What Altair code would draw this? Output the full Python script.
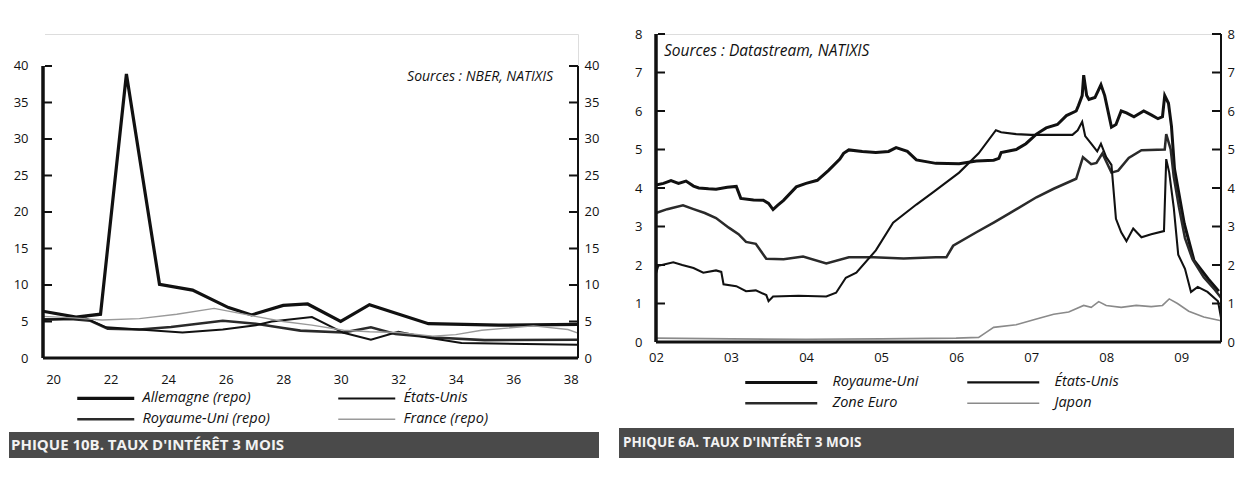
import altair as alt
import pandas as pd

# ---------------- Graphique 10B : 1920-1938 ----------------
all_x = [19.65, 20.8, 21.65, 22.55, 23.7, 24.85, 26.1, 26.9, 28.0, 28.85, 30.0, 31.0, 33.05, 35.5, 38.25]
all_y = [6.4, 5.6, 6.0, 38.9, 10.1, 9.3, 6.9, 5.9, 7.2, 7.4, 5.0, 7.3, 4.7, 4.5, 4.6]

eu1_x = [19.65, 20.7, 21.15, 21.85, 23.0, 24.5, 25.9, 27.05, 27.6, 29.0, 30.1, 31.05, 32.0, 33.0, 34.2, 38.25]
eu1_y = [5.2, 5.4, 5.4, 4.2, 3.9, 3.5, 3.9, 4.5, 5.0, 5.6, 3.45, 2.5, 3.6, 2.8, 2.05, 1.8]

ru1_x = [19.65, 20.7, 21.3, 21.9, 23.0, 24.1, 25.9, 27.05, 28.0, 28.6, 30.1, 31.05, 31.9, 33.25, 35.0, 38.25]
ru1_y = [5.3, 5.3, 5.1, 4.0, 3.9, 4.25, 5.1, 4.7, 4.1, 3.75, 3.5, 4.2, 3.3, 2.8, 2.45, 2.5]

fr_x = [19.65, 20.7, 21.7, 23.0, 24.3, 25.6, 26.9, 28.0, 29.0, 30.1, 31.0, 32.0, 33.2, 34.0, 34.9, 36.7, 37.9, 38.25]
fr_y = [5.7, 5.5, 5.2, 5.4, 6.0, 6.8, 5.8, 5.0, 4.5, 3.8, 3.6, 3.5, 3.0, 3.2, 3.8, 4.4, 3.9, 3.4]

# legend is filled column by column: (Allemagne, Royaume-Uni) then (États-Unis, France)
series_g = ["Allemagne (repo)", "Royaume-Uni (repo)", "États-Unis", "France (repo)"]
couleurs_g = ["#111111", "#2a2a2a", "#111111", "#9a9a9a"]
epaisseurs_g = [3.2, 1.4, 2.6, 1.3]
annees_g = [20, 22, 24, 26, 28, 30, 32, 34, 36, 38]
graduations_g = [0, 5, 10, 15, 20, 25, 30, 35, 40]
x_dom_g = [19.65, 38.25]
y_dom_g = [0, 44.38]

# ---------------- Graphique 6A : 2002-2009 ----------------
ru_x = [2002.0, 2002.1, 2002.2, 2002.3, 2002.4, 2002.5, 2002.57, 2002.7, 2002.8, 2002.95, 2003.07, 2003.13,
        2003.3, 2003.43, 2003.5, 2003.56, 2003.62, 2003.7, 2003.87, 2004.0, 2004.15, 2004.3, 2004.45, 2004.5,
        2004.57, 2004.75, 2004.93, 2005.1, 2005.2, 2005.35, 2005.47, 2005.73, 2006.04, 2006.27, 2006.5,
        2006.57, 2006.6, 2006.8, 2006.93, 2007.07, 2007.2, 2007.35, 2007.47, 2007.6, 2007.63, 2007.68,
        2007.7, 2007.74, 2007.77, 2007.85, 2007.93, 2007.98, 2008.07, 2008.13, 2008.2, 2008.27, 2008.37,
        2008.5, 2008.6, 2008.69, 2008.75, 2008.78, 2008.83, 2008.87, 2008.91, 2009.04, 2009.17, 2009.36, 2009.5]
ru_y = [4.08, 4.12, 4.19, 4.12, 4.18, 4.05, 4.0, 3.98, 3.97, 4.02, 4.04, 3.73,
        3.69, 3.68, 3.6, 3.44, 3.55, 3.68, 4.03, 4.12, 4.2, 4.46, 4.75, 4.9,
        4.99, 4.95, 4.92, 4.95, 5.05, 4.95, 4.73, 4.64, 4.63, 4.7, 4.72,
        4.77, 4.92, 5.0, 5.15, 5.4, 5.56, 5.65, 5.88, 6.0, 6.14, 6.4,
        6.93, 6.4, 6.3, 6.35, 6.68, 6.4, 5.58, 5.65, 6.0, 5.95, 5.85,
        6.0, 5.9, 5.8, 5.85, 6.4, 6.2, 5.6, 4.5, 3.08, 2.12, 1.64, 1.32]

us_x = [2002.0, 2002.03, 2002.12, 2002.23, 2002.35, 2002.5, 2002.63, 2002.8, 2002.87, 2002.9, 2003.07, 2003.2,
        2003.33, 2003.47, 2003.5, 2003.56, 2003.9, 2004.27, 2004.4, 2004.53, 2004.67, 2004.93, 2005.16,
        2005.47, 2005.7, 2006.04, 2006.3, 2006.53, 2006.6, 2006.8, 2007.0, 2007.3, 2007.55, 2007.62,
        2007.68, 2007.72, 2007.8, 2007.88, 2007.93, 2008.0, 2008.07, 2008.13, 2008.2, 2008.27, 2008.36,
        2008.47, 2008.6, 2008.77, 2008.8, 2008.84, 2008.9, 2008.96, 2009.05, 2009.13, 2009.22, 2009.35,
        2009.49, 2009.53]
us_y = [1.78, 1.98, 2.02, 2.07, 2.0, 1.92, 1.8, 1.86, 1.82, 1.5, 1.45, 1.32,
        1.34, 1.22, 1.06, 1.18, 1.2, 1.18, 1.28, 1.67, 1.8, 2.38, 3.1,
        3.57, 3.9, 4.4, 4.9, 5.5, 5.45, 5.4, 5.38, 5.38, 5.38, 5.5,
        5.72, 5.35, 5.15, 4.95, 5.15, 4.8, 4.6, 3.2, 2.85, 2.62, 2.95,
        2.72, 2.8, 2.88, 4.75, 4.4, 3.5, 2.27, 1.9, 1.3, 1.43, 1.3,
        1.06, 0.63]

ze_x = [2002.0, 2002.15, 2002.36, 2002.5, 2002.65, 2002.8, 2002.97, 2003.1, 2003.2, 2003.33, 2003.47, 2003.7,
        2003.96, 2004.27, 2004.57, 2004.9, 2005.3, 2005.73, 2005.87, 2005.96, 2006.27, 2006.5, 2006.71,
        2007.07, 2007.3, 2007.6, 2007.69, 2007.8, 2007.87, 2007.95, 2008.07, 2008.16, 2008.3, 2008.47,
        2008.78, 2008.8, 2008.86, 2008.9, 2008.97, 2009.05, 2009.15, 2009.3, 2009.45, 2009.53]
ze_y = [3.35, 3.45, 3.55, 3.45, 3.35, 3.22, 2.97, 2.8, 2.6, 2.55, 2.16, 2.15,
        2.22, 2.04, 2.2, 2.2, 2.17, 2.2, 2.2, 2.5, 2.85, 3.1, 3.34,
        3.76, 3.98, 4.24, 4.8, 4.62, 4.65, 4.9, 4.4, 4.45, 4.78, 4.98,
        5.0, 5.4, 5.0, 4.3, 3.5, 2.7, 2.15, 1.68, 1.35, 1.15]

jp_x = [2002.0, 2003.0, 2004.0, 2005.0, 2006.0, 2006.3, 2006.4, 2006.5, 2006.8, 2007.07, 2007.3, 2007.5,
        2007.7, 2007.8, 2007.9, 2008.0, 2008.2, 2008.4, 2008.6, 2008.75, 2008.84, 2008.95, 2009.1, 2009.3, 2009.53]
jp_y = [0.1, 0.08, 0.07, 0.08, 0.1, 0.12, 0.25, 0.38, 0.45, 0.6, 0.72, 0.78,
        0.95, 0.9, 1.05, 0.95, 0.9, 0.95, 0.92, 0.95, 1.12, 1.0, 0.8, 0.65, 0.55]

# legend filled column by column: (Royaume-Uni, Zone Euro) then (États-Unis, Japon)
series_d = ["Royaume-Uni", "Zone Euro", "États-Unis", "Japon"]
couleurs_d = ["#111111", "#2a2a2a", "#111111", "#8a8a8a"]
epaisseurs_d = [3.0, 1.6, 3.0, 1.2]
annees_d = [2002, 2003, 2004, 2005, 2006, 2007, 2008, 2009]
graduations_d = [0, 1, 2, 3, 4, 5, 6, 7, 8]
x_dom_d = [2002.0, 2009.53]
y_dom_d = [0, 8]

titre_g = "PHIQUE 10B. TAUX D'INTÉRÊT 3 MOIS"
titre_d = "PHIQUE 6A. TAUX D'INTÉRÊT 3 MOIS"
source_g = "Sources : NBER, NATIXIS"
source_d = "Sources : Datastream, NATIXIS"

FONT = "Open Sans"
W_G, H_G = 535, 324
W_D, H_D = 565, 308


def long_df(names, xs, ys):
    rows = []
    for n, xx, yy in zip(names, xs, ys):
        for a, b in zip(xx, yy):
            rows.append({"serie": n, "annee": a, "taux": b})
    return pd.DataFrame(rows)


df_g = long_df(series_g, [all_x, ru1_x, eu1_x, fr_x], [all_y, ru1_y, eu1_y, fr_y])
df_d = long_df(series_d, [ru_x, ze_x, us_x, jp_x], [ru_y, ze_y, us_y, jp_y])


def legend(x, y, half_len, lab_off, colpad):
    # short flat symbol box (4px) so rows stay compact; the drawn stroke is longer
    return alt.Legend(title=None, orient="none", legendX=x, legendY=y, columns=2,
                      direction="vertical",
                      symbolType="M0,0L%g,0" % half_len, symbolSize=16, labelFont=FONT,
                      labelFontSize=14.5, labelFontStyle="italic", labelColor="#111",
                      columnPadding=colpad, rowPadding=6, labelOffset=lab_off,
                      padding=0, labelLimit=300)


def panel(df, names, cols, widths, xdom, ydom, xvals, yvals, w, h, leg, xlabpad, ylabpad_l,
          ylabpad_r, labelexpr, src, src_x, src_y, src_align, src_size, ban, titre,
          titre_size):
    yscale = alt.Scale(domain=ydom, nice=False)
    xaxis = alt.Axis(values=xvals, ticks=False, grid=False, title=None, domain=False,
                     labelPadding=xlabpad, labelFlush=False,
                     labelFont=FONT, labelFontSize=13, labelColor="#111",
                     labelExpr=labelexpr)
    dfa = pd.DataFrame({"bas": [min(yvals)], "haut": [max(yvals)]})
    lines = alt.Chart(df).mark_line(strokeJoin="miter").encode(
        x=alt.X("annee:Q", scale=alt.Scale(domain=xdom, nice=False, zero=False), axis=xaxis),
        y=alt.Y("taux:Q", scale=yscale,
                axis=alt.Axis(values=yvals, orient="left", ticks=False, grid=False, title=None,
                              domain=False, labelPadding=ylabpad_l, labelFont=FONT,
                              labelFontSize=13, labelColor="#111")),
        color=alt.Color("serie:N", scale=alt.Scale(domain=names, range=cols), legend=leg),
        strokeWidth=alt.StrokeWidth("serie:N", scale=alt.Scale(domain=names, range=widths),
                                    legend=leg),
        order=alt.Order("annee:Q"),
    )
    dft = pd.DataFrame({"v": yvals})
    ticks_l = alt.Chart(dft).mark_rule(color="#111", strokeWidth=2).encode(
        y=alt.Y("v:Q", axis=None, scale=yscale), x=alt.value(0), x2=alt.value(9))
    ticks_r = alt.Chart(dft).mark_rule(color="#111", strokeWidth=2).encode(
        y=alt.Y("v:Q", scale=yscale,
                axis=alt.Axis(values=yvals, orient="right", ticks=False, grid=False,
                              title=None, domain=False, labelPadding=ylabpad_r,
                              labelFont=FONT, labelFontSize=13, labelColor="#111")),
        x=alt.value(w - 9), x2=alt.value(w))
    axe_l = alt.Chart(dfa).mark_rule(color="#111", strokeWidth=3.5).encode(
        x=alt.value(0), y=alt.Y("bas:Q", axis=None, scale=yscale), y2="haut:Q")
    axe_r = alt.Chart(dfa).mark_rule(color="#111", strokeWidth=2).encode(
        x=alt.value(w), y=alt.Y("bas:Q", axis=None, scale=yscale), y2="haut:Q")
    axe_b = alt.Chart(dfa).mark_rule(color="#111", strokeWidth=3).encode(
        y=alt.Y("bas:Q", axis=None, scale=yscale), x=alt.value(0), x2=alt.value(w))
    layers = [lines, ticks_l, ticks_r, axe_l, axe_r, axe_b]
    dfs = pd.DataFrame({"t": [src]})
    layers.append(alt.Chart(dfs).mark_text(align=src_align, baseline="middle", font=FONT,
                                           fontSize=src_size, fontStyle="italic",
                                           color="#111").encode(
        x=alt.value(src_x), y=alt.value(src_y), text="t:N"))
    dfb = pd.DataFrame({"t": [titre]})
    bx0, bx1, by0, by1, tx = ban
    layers.append(alt.Chart(dfb).mark_rect(color="#4a4a4a").encode(
        x=alt.value(bx0), x2=alt.value(bx1), y=alt.value(by0), y2=alt.value(by1)))
    layers.append(alt.Chart(dfb).mark_text(align="left", baseline="middle", font=FONT,
                                           fontSize=titre_size, fontWeight="bold",
                                           color="#f2f2f2").encode(
        x=alt.value(tx), y=alt.value((by0 + by1) / 2), text="t:N"))
    # white cover drawn last, above the top graduation along the left edge
    layers.append(alt.Chart(dfa).mark_rule(color="white", strokeWidth=4).encode(
        x=alt.value(0), y=alt.Y("haut:Q", axis=None, scale=yscale), y2=alt.value(-2)))
    return alt.layer(*layers).resolve_axis(y="independent").properties(width=w, height=h)


left = panel(df_g, series_g, couleurs_g, epaisseurs_g, x_dom_g, y_dom_g, annees_g, graduations_g,
             W_G, H_G, legend(27, 357, 28.5, 58, 61), 15, 15, 6, "toString(datum.value)",
             source_g, 510, 43, "right", 14, (-34, 556, 398, 424, -32), titre_g, 15)
right = panel(df_d, series_d, couleurs_d, epaisseurs_d, x_dom_d, y_dom_d, annees_d, graduations_d,
              W_D, H_D, legend(82, 341, 36, 80, 41), 9, 14, 6,
              "slice(toString(datum.value), 2)",
              source_d, 8, 17, "left", 15.5, (-37, 578, 394, 424, -33), titre_d, 13.5)

chart = alt.hconcat(left, right, spacing=78, bounds="flush").resolve_scale(
    color="independent", strokeWidth="independent", x="independent", y="independent"
).properties(
    padding={"left": 0, "top": 19, "right": 0, "bottom": 0}
).configure_view(stroke=None, strokeWidth=0).configure_axis(domain=False).configure(font=FONT)

chart.save("out.html", embed_options={"renderer": "svg", "actions": False})
